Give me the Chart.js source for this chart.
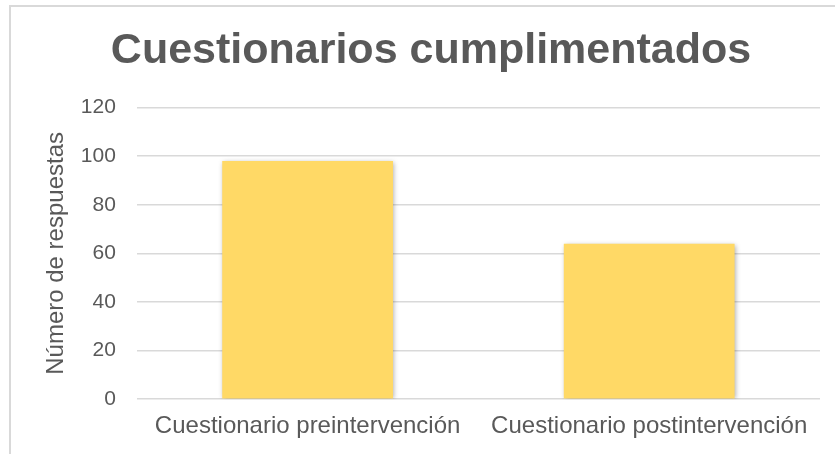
<!DOCTYPE html>
<html>
<head>
<meta charset="utf-8">
<script src="https://cdn.jsdelivr.net/npm/chart.js@4.4.0/dist/chart.umd.min.js"></script>
<style>
  html, body { margin: 0; padding: 0; background: #fff; overflow: hidden; }
  #marco {
    position: absolute; left: 9px; top: 5px;
    width: 900px; height: 520px;
    border: 2px solid #d9d9d9;
  }
  #caja { position: absolute; left: 0; top: 0; width: 835px; height: 454px; }
</style>
</head>
<body>
<div id="marco"></div>
<div id="caja"><canvas id="grafico" width="835" height="454"></canvas></div>
<script>
// Datos del gráfico
const categorias = ["Cuestionario preintervención", "Cuestionario postintervención"];
const respuestas = [98, 64];
const ticksY = [0, 20, 40, 60, 80, 100, 120];

const gris = "#595959";
const fuente = "Liberation Sans, Arial, sans-serif";

// sombra suave alrededor de las barras
const sombraBarras = {
    id: "sombraBarras",
    beforeDatasetDraw(chart) {
        const ctx = chart.ctx;
        ctx.save();
        ctx.shadowColor = "rgba(0,0,0,0.35)";
        ctx.shadowBlur = 5;
        ctx.shadowOffsetX = 1;
        ctx.shadowOffsetY = 1;
    },
    afterDatasetDraw(chart) {
        chart.ctx.restore();
    }
};

const ctx = document.getElementById("grafico").getContext("2d");
new Chart(ctx, {
    type: "bar",
    data: {
        labels: categorias,
        datasets: [{
            label: "Número de respuestas",
            data: respuestas,
            backgroundColor: "#ffd966",
            borderWidth: 0,
            barPercentage: 0.5,
            categoryPercentage: 1.0
        }]
    },
    options: {
        responsive: false,
        animation: false,
        layout: { padding: { left: 42, right: 15, top: 14, bottom: 1 } },
        plugins: {
            legend: { display: false },
            tooltip: { enabled: false },
            title: {
                display: true,
                text: "Cuestionarios cumplimentados",
                color: gris,
                font: { family: fuente, size: 43, weight: "bold" },
                padding: { top: 11, bottom: 31 }
            }
        },
        scales: {
            x: {
                grid: { display: false, drawTicks: false },
                border: { display: false },
                ticks: {
                    color: gris,
                    font: { family: fuente, size: 24 },
                    maxRotation: 0,
                    padding: 12.5
                }
            },
            y: {
                min: 0,
                max: 120,
                afterBuildTicks: (axis) => { axis.ticks = ticksY.map(v => ({ value: v })); },
                grid: { color: "#d9d9d9", lineWidth: 1.5, drawTicks: false },
                border: { display: false },
                ticks: {
                    color: gris,
                    font: { family: fuente, size: 21 },
                    padding: 21
                },
                title: {
                    display: true,
                    text: "Número de respuestas",
                    color: gris,
                    font: { family: fuente, size: 24 },
                    padding: { top: 0, bottom: -11 }
                }
            }
        }
    },
    plugins: [sombraBarras]
});
</script>
</body>
</html>
